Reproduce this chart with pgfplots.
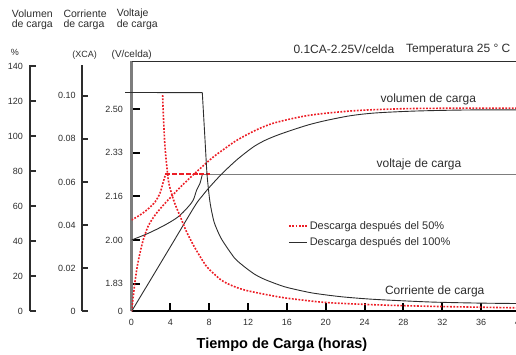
\documentclass[border=0pt]{standalone}
\usepackage{pgfplots}
\pgfplotsset{compat=1.18}
\usepackage{fontspec}
\setmainfont{Liberation Sans}
\definecolor{rojo}{RGB}{236,30,38}
\definecolor{gris}{RGB}{125,125,125}
\definecolor{oscuro}{RGB}{45,45,45}
\pgfplotsset{
  base/.style={scale only axis, anchor=south west,
    /pgf/number format/assume math mode=true,
    tick label style={font=\fontsize{9}{10}\selectfont, text=oscuro}},
  overlay/.style={base, at={(131.5pt,43.5pt)}, width=388.5pt, height=250pt,
    xmin=0, xmax=40, hide axis},
  rojodot/.style={rojo, line width=1.6pt, dash pattern=on 1.8pt off 1.5pt},
  negro/.style={oscuro, line width=0.9pt},
}
\begin{document}
\begin{tikzpicture}[x=1pt,y=1pt]
\useasboundingbox (0,0) rectangle (516,355);

% ---- volume spine (%)
\begin{axis}[base, at={(29.5pt,43.5pt)}, width=10pt, height=246.9pt,
  xmin=0, xmax=1, ymin=0, ymax=140.8,
  axis y line=left, axis x line=none,
  y axis line style={-, line width=2pt, oscuro},
  tick align=inside, major tick length=6pt,
  every tick/.style={line width=2pt, oscuro},
  ytick={0,20,40,60,80,100,120,140},
  yticklabels={0,20,40,60,80,100,120,140},
  yticklabel style={xshift=-3pt}]
\end{axis}

% ---- current spine (XCA)
\begin{axis}[base, at={(81.7pt,43.5pt)}, width=10pt, height=246.5pt,
  xmin=0, xmax=1, ymin=0, ymax=0.1142,
  axis y line=left, axis x line=none,
  y axis line style={-, line width=2pt, oscuro},
  tick align=inside, major tick length=6pt,
  every tick/.style={line width=2pt, oscuro},
  ytick={0,0.02,0.04,0.06,0.08,0.10},
  yticklabels={0,0.02,0.04,0.06,0.08,0.10},
  yticklabel style={xshift=-2.5pt}]
\end{axis}

% ---- main axis (voltage)
\begin{axis}[base, at={(131.5pt,43.5pt)}, width=388.5pt, height=250pt,
  xmin=0, xmax=40, ymin=1.7271, ymax=2.6813,
  axis x line=bottom, axis y line=left,
  x axis line style={-, line width=2pt, black},
  y axis line style={-, line width=2.6pt, gris},
  tick align=inside, major tick length=8pt,
  every tick/.style={line width=2pt, black},
  xtick={4,8,...,40},
  xticklabels={4,8,12,16,20,24,28,32,36,40},
  extra x ticks={0}, extra x tick labels={0},
  extra x tick style={major tick length=0pt},
  ytick={1.8333,2,2.1667,2.3333,2.5},
  yticklabels={1.83,2.00,2.16,2.33,2.50},
  extra y ticks={1.7271}, extra y tick labels={0},
  extra y tick style={major tick length=0pt},
  yticklabel style={xshift=-5pt},
  xticklabel style={yshift=-4.5pt},
  legend style={at={(axis description cs:0.395,0.378)}, anchor=north west,
    draw=none, fill=none, font=\fontsize{11}{13}\selectfont,
    text=oscuro, row sep=3pt},
  legend cell align=left,
  legend image code/.code={\draw[#1] (0pt,0pt) -- (18pt,0pt);},
  ]
\draw[oscuro, line width=1.2pt] (rel axis cs:0,1) -- (rel axis cs:1,1);
% voltaje de carga, 100 %
\addplot[gris, line width=1.4pt, forget plot] coordinates {(7.29,2.25) (40,2.25)};
\addplot[negro, smooth, tension=0.5, forget plot] coordinates {
  (0,2.000) (1.73,2.0256) (3.45,2.0573) (4.82,2.0889) (5.85,2.1271)
  (6.36,2.1527) (6.71,2.1908) (7.05,2.2164) (7.29,2.25)};
% voltaje de carga, 50 %
\addplot[rojodot, smooth, tension=0.5, forget plot] coordinates {
  (0,2.0763) (0.88,2.0954) (1.70,2.1183) (2.42,2.1450) (2.94,2.1794)
  (3.24,2.2176) (3.5,2.25)};
\addplot[rojo, line width=2pt, dash pattern=on 5pt off 1.8pt, forget plot]
  coordinates {(3.5,2.25) (8.08,2.25)};
\addlegendimage{rojodot}
\addlegendentry{Descarga después del 50\%}
\addlegendimage{negro}
\addlegendentry{Descarga después del 100\%}
\end{axis}

% ---- volume curves (%)
\begin{axis}[overlay, ymin=0, ymax=142.56]
\addplot[negro, smooth, tension=0.5] coordinates {
  (0,0) (3.96,36.5) (6.5,60) (7.3,66) (8.08,71.2) (9.32,78.6) (10.66,85.6)
  (11.69,90.3) (12.7,94.4) (13.75,97.6) (15,100.5) (16.5,103.4) (18.2,106.4)
  (19.93,108.8) (22.5,111.6) (25.08,113.2) (29.2,114.3) (34.35,114.9)
  (39.6,115)};
\addplot[rojodot, smooth, tension=0.5] coordinates {
  (0,0) (0.15,7) (0.36,17) (0.6,26) (0.88,33.5) (1.22,41) (1.7,48.5)
  (2.3,54) (2.94,58.5) (4.17,66) (5.2,71.8) (6.23,77.3) (8.29,87.5)
  (9.63,93) (10.66,97) (11.8,100.6) (13.03,104) (14.5,107.2) (16.53,110.0)
  (18.2,111.8) (19.93,113.0) (22.5,114.3) (25.08,115.1) (29.71,115.8)
  (39.6,116)};
\end{axis}

% ---- current curves (XCA)
\begin{axis}[overlay, ymin=0, ymax=0.11585, clip=false]
\addplot[negro] coordinates {(-0.65,0.1015) (7.29,0.1014)};
\addplot[negro, smooth, tension=0.4] coordinates {
  (7.29,0.1014) (7.57,0.0795) (7.78,0.0633) (8.08,0.0507) (8.50,0.0415)
  (9.10,0.0350) (9.63,0.0310) (10.66,0.0245) (11.69,0.0205) (12.7,0.0172)
  (13.75,0.0148) (15.81,0.0114) (18.59,0.0086) (21.68,0.0068) (25.08,0.0056)
  (30.75,0.0044) (35.7,0.0039) (39.6,0.0037)};
\addplot[rojodot, smooth, tension=0.4] coordinates {
  (3.21,0.1003) (3.27,0.0920) (3.45,0.0762) (3.79,0.0609) (4.14,0.0544)
  (4.48,0.0498) (4.99,0.0443) (5.68,0.0368) (6.54,0.0294) (7.74,0.0208)
  (9.11,0.0150) (9.8,0.0131) (10.66,0.0114) (11.69,0.0099) (13.23,0.0084)
  (15.81,0.0063) (19.93,0.0042) (25.08,0.0031) (30.74,0.0024) (39.6,0.0017)};
\end{axis}

% ---- texts
\begin{scope}[every node/.style={inner sep=0pt, text=oscuro}]
\node[anchor=west, font=\fontsize{10.5}{12}\selectfont] at (11.7,341) {Volumen};
\node[anchor=west, font=\fontsize{10.5}{12}\selectfont] at (11.7,330) {de carga};
\node[anchor=west, font=\fontsize{10.5}{12}\selectfont] at (63.3,341) {Corriente};
\node[anchor=west, font=\fontsize{10.5}{12}\selectfont] at (63.3,330) {de carga};
\node[anchor=west, font=\fontsize{10.5}{12}\selectfont] at (116.7,341) {Voltaje};
\node[anchor=west, font=\fontsize{10.5}{12}\selectfont] at (116.7,330) {de carga};
\node[font=\fontsize{9}{10}\selectfont] at (15,302.7) {\%};
\node[font=\fontsize{9}{10}\selectfont] at (84.7,300) {(XCA)};
\node[font=\fontsize{10}{12}\selectfont] at (131.7,300) {(V/celda)};
\node[anchor=west, font=\fontsize{12}{14}\selectfont] at (293.3,305.7) {0.1CA-2.25V/celda};
\node[anchor=west, font=\fontsize{12}{14}\selectfont] at (406,305.7) {Temperatura 25 ° C};
\node[font=\fontsize{12}{14}\selectfont] at (428.3,255.7) {volumen de carga};
\node[font=\fontsize{12}{14}\selectfont] at (419,190.7) {voltaje de carga};
\node[font=\fontsize{12}{14}\selectfont] at (434.7,63.3) {Corriente de carga};
\node[font=\bfseries\fontsize{14.5}{16}\selectfont, text=black] at (282,10) {Tiempo de Carga (horas)};
\end{scope}
\end{tikzpicture}
\end{document}
